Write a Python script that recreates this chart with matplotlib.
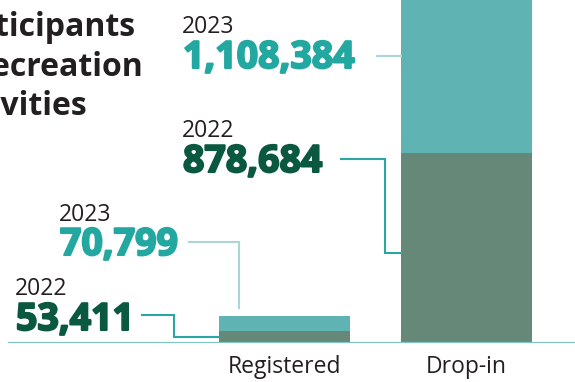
import matplotlib.pyplot as plt
from matplotlib.lines import Line2D
import matplotlib.patheffects as pe

categories = ['Registered', 'Drop-in']
years = ['2022', '2023']
participants_2022 = [53411, 878684]
participants_2023 = [70799, 1108384]
title_lines = ['Participants', 'in recreation', 'activities']

DARK_BAR = '#668878'
TEAL_BAR = '#5fb4b3'
DARK_TXT = '#0b5841'
TEAL_TXT = '#22a8a1'
INK = '#231f20'
LINE_DARK = '#2aa7a1'
LINE_LIGHT = '#aad7d6'
BASE = '#7ec5c4'

W, H = 575, 382
fig = plt.figure(figsize=(W / 100, H / 100), dpi=100)

# bar axes: zero line sits near the bottom, top of the drop-in bar runs off the page
base_px = 342.5
ax = fig.add_axes([0, (H - base_px) / H, 1, base_px / H])
ax.set_xlim(-1.5632, 1.5962)
ax.set_ylim(0, base_px * 878684 / 189.5)
ax.axis('off')

xs = range(len(categories))
ax.bar(xs, participants_2022, width=0.72, color=DARK_BAR, zorder=2)
ax.bar(xs, participants_2023, width=0.72, bottom=participants_2022,
       color=TEAL_BAR, zorder=2)
ax.axhline(0, xmin=9 / W, xmax=1, color=BASE, lw=1.6, zorder=3)

# overlay in pixel coordinates (origin top-left) for text and leader lines
ov = fig.add_axes([0, 0, 1, 1], facecolor='none')
ov.set_xlim(0, W)
ov.set_ylim(H, 0)
ov.axis('off')


def px(x, y):
    dx, dy = ax.transData.transform((x, y))
    return dx, H - dy


FONT = 'Open Sans'

# title, left part clipped by the page edge
for line, right, base in zip(title_lines, [135, 143, 87], [36, 76, 115]):
    ov.text(right, base, line, ha='right', va='baseline', fontsize=23,
            fontweight='bold', color=INK, family=FONT)

# value labels: (x, year baseline, number baseline)
label_pos = {
    ('Drop-in', '2023'): (182, 33, 68),
    ('Drop-in', '2022'): (182, 137, 172),
    ('Registered', '2023'): (59, 221, 255),
    ('Registered', '2022'): (15, 295, 330),
}
for i, cat in enumerate(categories):
    for yr, vals, col in [('2022', participants_2022, DARK_TXT),
                          ('2023', participants_2023, TEAL_TXT)]:
        x, yb, nb = label_pos[(cat, yr)]
        ov.text(x, yb, yr, ha='left', va='baseline', fontsize=16.5,
                color=INK, family=FONT)
        ov.text(x + 1, nb, f'{vals[i]:,}', ha='left', va='baseline',
                fontsize=27, fontweight='bold', fontstyle='normal',
                color=col, family=FONT,
                path_effects=[pe.withStroke(linewidth=1.5, foreground=col)])

# leader lines
left_reg = px(-0.36, 0)[0]
left_drop = px(1 - 0.36, 0)[0]
mid_reg_2022 = px(0, participants_2022[0] / 2)[1]
leaders = [
    ([377, left_drop], [56, 56], LINE_LIGHT),
    ([341, 385, 385, left_drop], [159, 159, 253, 253], LINE_DARK),
    ([189, 239, 239], [242, 242, 308], LINE_LIGHT),
    ([142, 174, 174, left_reg], [315, 315, mid_reg_2022, mid_reg_2022], LINE_DARK),
]
for lx, ly, col in leaders:
    ov.add_line(Line2D(lx, ly, color=col, lw=1.5, solid_joinstyle='miter'))

# category labels
for i, cat in enumerate(categories):
    cx = px(i, 0)[0]
    ov.text(cx, 373, cat, ha='center', va='baseline', fontsize=16.5,
            color=INK, family=FONT)

fig.savefig('out.png', dpi=100)
